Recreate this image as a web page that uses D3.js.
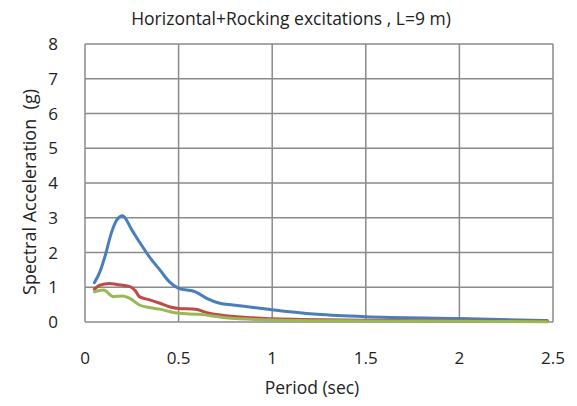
<!DOCTYPE html>
<html>
<head>
<meta charset="utf-8">
<script src="https://cdn.jsdelivr.net/npm/d3@7"></script>
<style>
  body { margin: 0; background: #fff; }
  text { font-family: "Open Sans", Lato, sans-serif; fill: #222; white-space: pre; }
</style>
</head>
<body>
<svg id="chart" width="577" height="406"></svg>
<script>
// periods (sec) and spectral acceleration (g)
var bluePeriod = [0.05, 0.08, 0.11, 0.14, 0.17, 0.20, 0.25, 0.29, 0.35, 0.40, 0.45, 0.50, 0.59, 0.65, 0.72, 0.79, 0.90, 1.00, 1.24, 1.50, 2.00, 2.47];
var blueValue  = [1.13, 1.45, 1.95, 2.55, 2.94, 3.06, 2.65, 2.31, 1.83, 1.50, 1.16, 0.97, 0.87, 0.68, 0.54, 0.49, 0.42, 0.35, 0.22, 0.15, 0.10, 0.04];

var redPeriod = [0.05, 0.08, 0.13, 0.17, 0.24, 0.27, 0.29, 0.35, 0.40, 0.45, 0.50, 0.59, 0.65, 0.74, 0.90, 1.00, 1.50, 2.00, 2.47];
var redValue  = [0.94, 1.06, 1.11, 1.08, 1.02, 0.89, 0.73, 0.63, 0.54, 0.44, 0.39, 0.37, 0.27, 0.19, 0.12, 0.09, 0.05, 0.03, 0.02];

var greenPeriod = [0.05, 0.10, 0.15, 0.20, 0.24, 0.29, 0.35, 0.40, 0.45, 0.50, 0.61, 0.75, 1.00, 1.50, 2.00, 2.47];
var greenValue  = [0.87, 0.92, 0.73, 0.75, 0.68, 0.49, 0.41, 0.37, 0.30, 0.25, 0.22, 0.12, 0.06, 0.03, 0.02, 0.01];

var xTicks = [0, 0.5, 1, 1.5, 2, 2.5];
var yTicks = [0, 1, 2, 3, 4, 5, 6, 7, 8];

var title = 'Horizontal+Rocking excitations , L=9 m)';
var xTitle = 'Period (sec)';
var yTitle = 'Spectral Acceleration  (g)';

var svg = d3.select('#chart');
// plot box (named to avoid clashing with window.top)
var plotLeft = 85, plotRight = 553, plotTop = 44, plotBottom = 322;

var x = d3.scaleLinear().domain([0, 2.5]).range([plotLeft, plotRight]);
var y = d3.scaleLinear().domain([0, 8]).range([plotBottom, plotTop]);

var gridColor = '#8a8a8a';

// horizontal grid
svg.append('g').selectAll('line.hgrid')
    .data(yTicks)
    .enter().append('line')
    .attr('class', 'hgrid')
    .attr('x1', plotLeft).attr('x2', plotRight)
    .attr('y1', function(d) { return y(d); })
    .attr('y2', function(d) { return y(d); })
    .style('stroke', gridColor)
    .style('stroke-width', 1.5);

// vertical grid
svg.append('g').selectAll('line.vgrid')
    .data(xTicks)
    .enter().append('line')
    .attr('class', 'vgrid')
    .attr('y1', plotTop).attr('y2', plotBottom)
    .attr('x1', function(d) { return x(d); })
    .attr('x2', function(d) { return x(d); })
    .style('stroke', gridColor)
    .style('stroke-width', 1.5);

// tick labels
svg.append('g').selectAll('text.ylab')
    .data(yTicks)
    .enter().append('text')
    .attr('class', 'ylab')
    .attr('x', 53)
    .attr('y', function(d) { return y(d) + 6; })
    .attr('text-anchor', 'middle')
    .style('font-size', '17px')
    .text(function(d) { return d; });

svg.append('g').selectAll('text.xlab')
    .data(xTicks)
    .enter().append('text')
    .attr('class', 'xlab')
    .attr('x', function(d) { return x(d); })
    .attr('y', 364)
    .attr('text-anchor', 'middle')
    .style('font-size', '17px')
    .text(function(d) { return d; });

// series
var line = d3.line()
    .x(function(d) { return x(d[0]); })
    .y(function(d) { return y(d[1]); })
    .curve(d3.curveMonotoneX);

var series = [
    {p: bluePeriod, v: blueValue, color: '#4a7ebb'},
    {p: redPeriod, v: redValue, color: '#be4b48'},
    {p: greenPeriod, v: greenValue, color: '#98b954'}
];

svg.append('g').selectAll('path.series')
    .data(series)
    .enter().append('path')
    .attr('class', 'series')
    .attr('d', function(s) { return line(d3.zip(s.p, s.v)); })
    .style('fill', 'none')
    .style('stroke', function(s) { return s.color; })
    .style('stroke-width', 3)
    .style('stroke-linejoin', 'round')
    .style('stroke-linecap', 'round');

// titles
svg.append('text')
    .attr('x', 291).attr('y', 25)
    .attr('text-anchor', 'middle')
    .style('font-size', '17.5px')
    .text(title);

svg.append('text')
    .attr('x', 312).attr('y', 394)
    .attr('text-anchor', 'middle')
    .style('font-size', '17.5px')
    .text(xTitle);

svg.append('text')
    .attr('transform', 'translate(36,' + 192 + ') rotate(-90)')
    .attr('text-anchor', 'middle')
    .style('font-size', '18px')
    .text(yTitle);
</script>
</body>
</html>
